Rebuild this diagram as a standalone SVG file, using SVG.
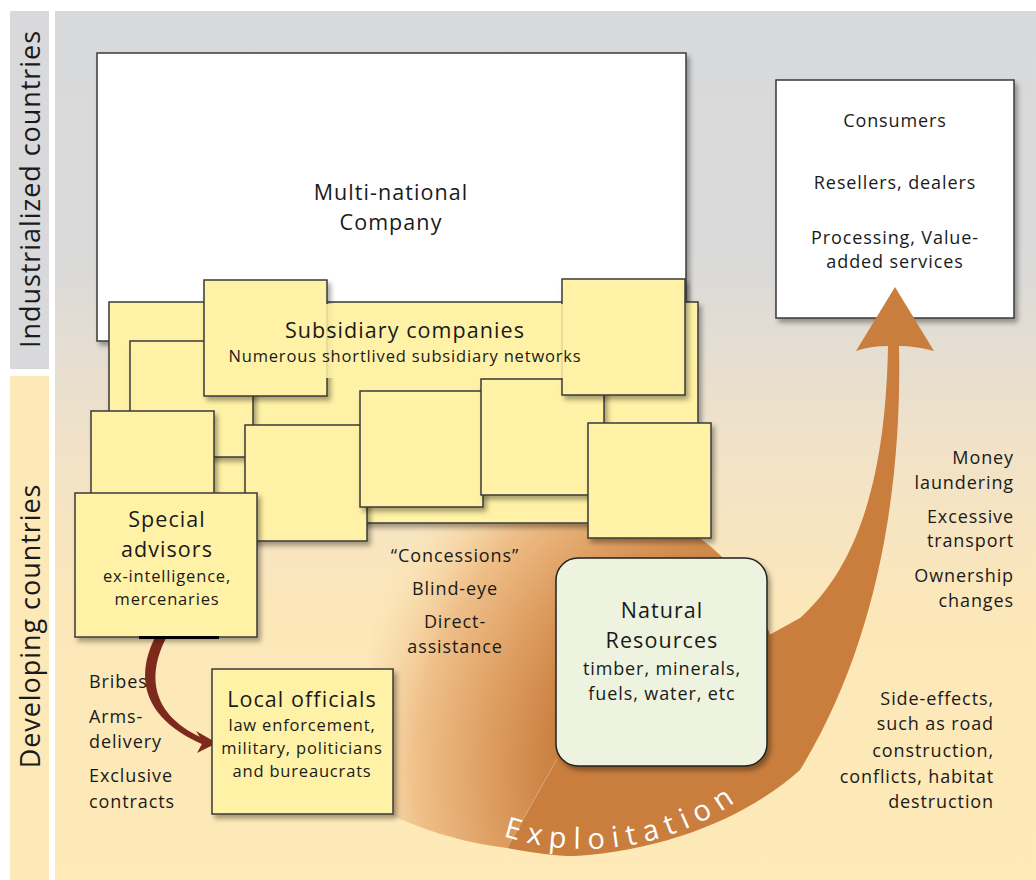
<svg xmlns="http://www.w3.org/2000/svg" width="1036" height="880" viewBox="0 0 1036 880">
<defs>
  <linearGradient id="bg" gradientUnits="userSpaceOnUse" x1="0" y1="11" x2="0" y2="880">
    <stop offset="0" stop-color="#d8d9db"/>
    <stop offset="0.3" stop-color="#dbdad9"/>
    <stop offset="0.5" stop-color="#f1e2c8"/>
    <stop offset="0.68" stop-color="#fce7ba"/>
    <stop offset="1" stop-color="#fee9b7"/>
  </linearGradient>
  <radialGradient id="fan" gradientUnits="userSpaceOnUse" cx="760" cy="770" r="420">
    <stop offset="0" stop-color="#c67b3b"/>
    <stop offset="0.5" stop-color="#cb8242"/>
    <stop offset="0.64" stop-color="#dd9c5f"/>
    <stop offset="0.82" stop-color="#efc08a"/>
    <stop offset="0.93" stop-color="#f7d8a8" stop-opacity="0.6"/>
    <stop offset="1" stop-color="#fbe3b5" stop-opacity="0"/>
  </radialGradient>
  <filter id="sh" x="-10%" y="-10%" width="130%" height="130%">
    <feDropShadow dx="3" dy="4" stdDeviation="2.5" flood-color="#000" flood-opacity="0.35"/>
  </filter>
  <path id="arc" d="M 503 836 A 264 264 0 0 0 765 778"/>
</defs>
<style>
  .t{font-family:"Open Sans","Noto Sans","Liberation Sans",sans-serif;fill:#1a1a1a;letter-spacing:0.05em}
  .h{font-size:21.5px}
  .s{font-size:16.5px}
  .m{font-size:18px}
  .v{font-size:27px;letter-spacing:0.035em}
  .c{text-anchor:middle}
  .r{text-anchor:end}
  .y{fill:#fff2a6;stroke:#3a3a3a;stroke-width:1.5;filter:url(#sh)}
  .w{fill:#fff;stroke:#3a3a3a;stroke-width:1.5;filter:url(#sh)}
</style>

<g id="background">
  <rect x="0" y="0" width="1036" height="880" fill="#fff"/>
  <rect x="10" y="11" width="39" height="358" fill="#d9d9db"/>
  <rect x="10" y="376" width="39" height="504" fill="#fde8b8"/>
  <rect x="55" y="11" width="981" height="869" fill="url(#bg)"/>
  <text class="t v c" transform="translate(40,189) rotate(-90)">Industrialized countries</text>
  <text class="t v c" transform="translate(40,626) rotate(-90)">Developing countries</text>
</g>

<g id="consumers">
  <rect class="w" x="776" y="80" width="238" height="238"/>
  <text class="t m c" x="895" y="127">Consumers</text>
  <text class="t m c" x="895" y="189">Resellers, dealers</text>
  <text class="t m c" x="895" y="244">Processing, Value-</text>
  <text class="t m c" x="895" y="268">added services</text>
</g>

<g id="multinational">
  <rect class="w" x="97" y="53" width="589" height="288"/>
  <text class="t h c" x="391" y="200">Multi-national</text>
  <text class="t h c" x="391" y="230">Company</text>
</g>

<g id="fan-region">
  <path d="M 370 524 L 700 524 L 700 538 Q 750 575 772 640 L 760 780 L 507 848 C 460 842, 420 830, 370 805 Z" fill="url(#fan)"/>
</g>

<g id="subsidiaries">
  <rect class="y" x="109" y="302" width="589" height="221"/>
  <rect class="y" x="130" y="341" width="123" height="116"/>
  <rect class="y" x="91" y="411" width="123" height="110"/>
  <rect class="y" x="204" y="280" width="123" height="116"/>
  <rect class="y" x="245" y="425" width="122" height="116"/>
  <rect class="y" x="360" y="391" width="123" height="116"/>
  <rect class="y" x="481" y="379" width="123" height="116"/>
  <rect class="y" x="588" y="423" width="123" height="115"/>
  <rect class="y" x="562" y="279" width="123" height="116"/>
  <rect x="226" y="304" width="358" height="74" fill="#fff2a6" fill-opacity="0.85"/>
  <text class="t h c" x="405" y="338">Subsidiary companies</text>
  <text class="t s c" x="405" y="362">Numerous shortlived subsidiary networks</text>
</g>

<g id="connectors">
  <path d="M 899 346 C 902 480, 880 640, 800 770 C 750 815, 670 850, 575 856 C 555 856, 530 852, 507 848 L 556 760 L 760 640 L 800 618 C 865 560, 886 460, 888 346 Q 870 346 856 351 L 895 287 L 934 351 Q 915 346 899 346 Z" fill="#c97e3e"/>
  <line x1="507" y1="848" x2="557" y2="759" stroke="#fff" stroke-opacity="0.4" stroke-width="0.8"/>
  <text font-family="'Open Sans','Noto Sans','Liberation Sans',sans-serif" font-size="29" letter-spacing="7.5" fill="#fff"><textPath href="#arc">Exploitation</textPath></text>
  <path d="M 161 627 C 140 660, 128 712, 204 745 L 205 739 C 142 712, 150 664, 170 631 Z" fill="#7d2a1c"/>
  <polygon points="217,743 196,731 203,742 197,753" fill="#7d2a1c"/>
</g>

<g id="special-advisors">
  <rect class="y" x="75" y="493" width="182" height="144"/>
  <rect x="139" y="636" width="80" height="3" fill="#000"/>
  <text class="t h c" x="167" y="527">Special</text>
  <text class="t h c" x="167" y="557">advisors</text>
  <text class="t s c" x="167" y="582">ex-intelligence,</text>
  <text class="t s c" x="167" y="605">mercenaries</text>
</g>

<g id="local-officials">
  <rect class="y" x="212" y="669" width="181" height="145"/>
  <text class="t h c" x="302" y="707">Local officials</text>
  <text class="t s c" x="302" y="731">law enforcement,</text>
  <text class="t s c" x="302" y="754">military, politicians</text>
  <text class="t s c" x="302" y="777">and bureaucrats</text>
</g>

<g id="natural-resources">
  <rect x="556" y="558" width="211" height="208" rx="22" fill="#edf3df" stroke="#222" stroke-width="1.5" filter="url(#sh)"/>
  <text class="t h c" x="662" y="618">Natural</text>
  <text class="t h c" x="662" y="648">Resources</text>
  <text class="t m c" x="662" y="675">timber, minerals,</text>
  <text class="t m c" x="662" y="700">fuels, water, etc</text>
</g>

<g id="labels">
  <text class="t m" x="89" y="688">Bribes</text>
  <text class="t m" x="89" y="723">Arms-</text>
  <text class="t m" x="89" y="748">delivery</text>
  <text class="t m" x="89" y="782">Exclusive</text>
  <text class="t m" x="89" y="808">contracts</text>
  <text class="t m c" x="455" y="562">“Concessions”</text>
  <text class="t m c" x="455" y="595">Blind-eye</text>
  <text class="t m c" x="455" y="628">Direct-</text>
  <text class="t m c" x="455" y="653">assistance</text>
  <text class="t m r" x="1014" y="464">Money</text>
  <text class="t m r" x="1014" y="489">laundering</text>
  <text class="t m r" x="1014" y="523">Excessive</text>
  <text class="t m r" x="1014" y="547">transport</text>
  <text class="t m r" x="1014" y="582">Ownership</text>
  <text class="t m r" x="1014" y="607">changes</text>
  <text class="t m r" x="994" y="705">Side-effects,</text>
  <text class="t m r" x="994" y="730">such as road</text>
  <text class="t m r" x="994" y="757">construction,</text>
  <text class="t m r" x="994" y="783">conflicts, habitat</text>
  <text class="t m r" x="994" y="808">destruction</text>
</g>
</svg>
